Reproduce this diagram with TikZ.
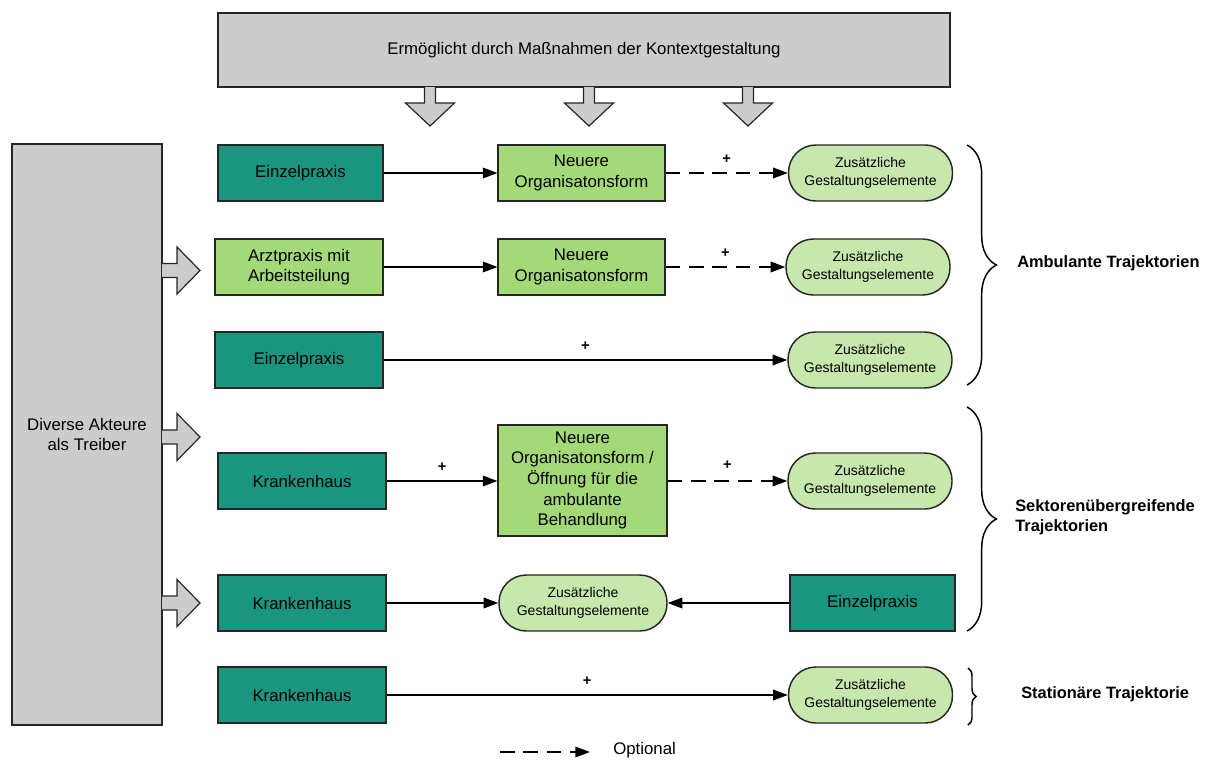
\documentclass[tikz,border=0pt]{standalone}
\usepackage{fontspec}
\setmainfont{Liberation Sans}
\usetikzlibrary{arrows.meta,decorations.pathreplacing}
\definecolor{teal1}{HTML}{1A9580}
\definecolor{green1}{HTML}{A3D977}
\definecolor{green2}{HTML}{C7E8AC}
\definecolor{grey1}{HTML}{CCCCCC}
\begin{document}
\begin{tikzpicture}[x=0.75pt,y=-0.75pt,
  box/.style={draw=black!85,line width=1.1pt,align=center,inner sep=1pt,
    font=\fontsize{12.6}{15.5}\selectfont},
  tealbox/.style={box,fill=teal1,minimum width=124pt,minimum height=42pt},
  greenbox/.style={box,fill=green1,minimum width=125pt,minimum height=42pt},
  pill/.style={box,fill=green2,minimum width=123pt,minimum height=42pt,
    rounded corners=20.5pt,font=\fontsize{10.5}{13.4}\selectfont},
  greybox/.style={box,fill=grey1},
  solidarrow/.style={line width=1pt,-{Triangle[length=11pt,width=8pt]}},
  dasharrow/.style={solidarrow,dash pattern=on 11pt off 6.5pt},
  plus/.style={font=\bfseries\fontsize{11}{12}\selectfont,inner sep=0pt},
  fatarrow/.style={draw=black!85,line width=0.9pt,fill=grey1},
  bracelabel/.style={font=\bfseries\fontsize{12.3}{15}\selectfont,anchor=west,align=left,inner sep=0pt},
  bracestyle/.style={line width=1.1pt,decorate}
]
\useasboundingbox (0,0) rectangle (1213,760);

% context box and its three downward arrows
\node[greybox,minimum width=549pt,minimum height=55.5pt] (ctx) at (584,50)
  {Ermöglicht durch Maßnahmen der Kontextgestaltung};
\foreach \cx in {430,589,748}{
  \draw[fatarrow] (\cx-5.5,87) -- (\cx-5.5,103) -- (\cx-24.5,103) -- (\cx,126)
    -- (\cx+24.5,103) -- (\cx+5.5,103) -- (\cx+5.5,87);
}

% actors column and its three arrows to the right
\node[greybox,minimum width=112.5pt,minimum height=436pt] (act) at (87,434.5)
  {Diverse Akteure\\als Treiber};
\foreach \cy in {270.5,437,603}{
  \draw[fatarrow] (162,\cy-7) -- (177,\cy-7) -- (177,\cy-23.5) -- (200,\cy)
    -- (177,\cy+23.5) -- (177,\cy+7) -- (162,\cy+7);
}

% row 1
\node[tealbox] (e1) at (300.5,173) {Einzelpraxis};
\node[greenbox] (n1) at (581.5,173) {Neuere\\Organisatonsform};
\node[pill] (z1) at (870.5,173) {Zusätzliche\\Gestaltungselemente};
\draw[solidarrow] (e1) -- (n1);
\draw[dasharrow] (n1) -- node[plus,above=7pt] (p1) {+} (z1);

% row 2
\node[greenbox,minimum width=126pt] (a2) at (299,267) {Arztpraxis mit\\Arbeitsteilung};
\node[greenbox] (n2) at (581.5,267) {Neuere\\Organisatonsform};
\node[pill] (z2) at (868,267) {Zusätzliche\\Gestaltungselemente};
\draw[solidarrow] (a2) -- (n2);
\draw[dasharrow] (n2) -- node[plus,above=7pt] (p2) {+} (z2);

% row 3
\node[tealbox,minimum width=126pt] (e3) at (299,360) {Einzelpraxis};
\node[pill] (z3) at (870,360) {Zusätzliche\\Gestaltungselemente};
\draw[solidarrow] (e3) -- node[plus,above=7pt] (p3) {+} (z3);

% row 4
\node[tealbox,minimum width=126pt] (k4) at (302,481) {Krankenhaus};
\node[greenbox,minimum width=126.5pt,minimum height=83pt] (n4) at (582.5,480.5)
  {Neuere\\Organisatonsform /\\Öffnung für die\\ambulante\\Behandlung};
\node[pill] (z4) at (870,481) {Zusätzliche\\Gestaltungselemente};
\draw[solidarrow] (k4) -- node[plus,above=7pt] (p4a) {+} (n4.west |- k4);
\draw[dasharrow] (n4.east |- z4) -- node[plus,above=8pt] (p4b) {+} (z4);

% row 5
\node[tealbox,minimum width=126pt] (k5) at (302,603) {Krankenhaus};
\node[pill,minimum width=126pt] (z5) at (583,603) {Zusätzliche\\Gestaltungselemente};
\node[tealbox] (e5) at (872.5,603) {Einzelpraxis};
\draw[solidarrow] (k5) -- (z5);
\draw[solidarrow] (e5) -- (z5);

% row 6
\node[tealbox,minimum width=126pt] (k6) at (302,695) {Krankenhaus};
\node[pill] (z6) at (870.5,695) {Zusätzliche\\Gestaltungselemente};
\draw[solidarrow] (k6) -- node[plus,above=7pt] (p6) {+} (z6);

% braces grouping the rows
\draw[bracestyle,decoration={brace,amplitude=22pt}] (967,145) -- (967,385);
\node[bracelabel] (amb) at (1017,263) {Ambulante Trajektorien};
\draw[bracestyle,decoration={brace,amplitude=22pt}] (967,407) -- (967,631);
\node[bracelabel] (sek) at (1015,517) {Sektorenübergreifende\\Trajektorien};
\draw[bracestyle,decoration={brace,amplitude=6pt}] (968,668) -- (968,725);
\node[bracelabel] (sta) at (1021,694) {Stationäre Trajektorie};

% legend
\coordinate (lg0) at (500,752);
\coordinate (lg1) at (590,752);
\node[anchor=west,inner sep=0pt,font=\fontsize{12.6}{15}\selectfont] (lgt) at (613,750) {Optional};
\draw[dasharrow] (lg0) -- (lg1);
\end{tikzpicture}
\end{document}
